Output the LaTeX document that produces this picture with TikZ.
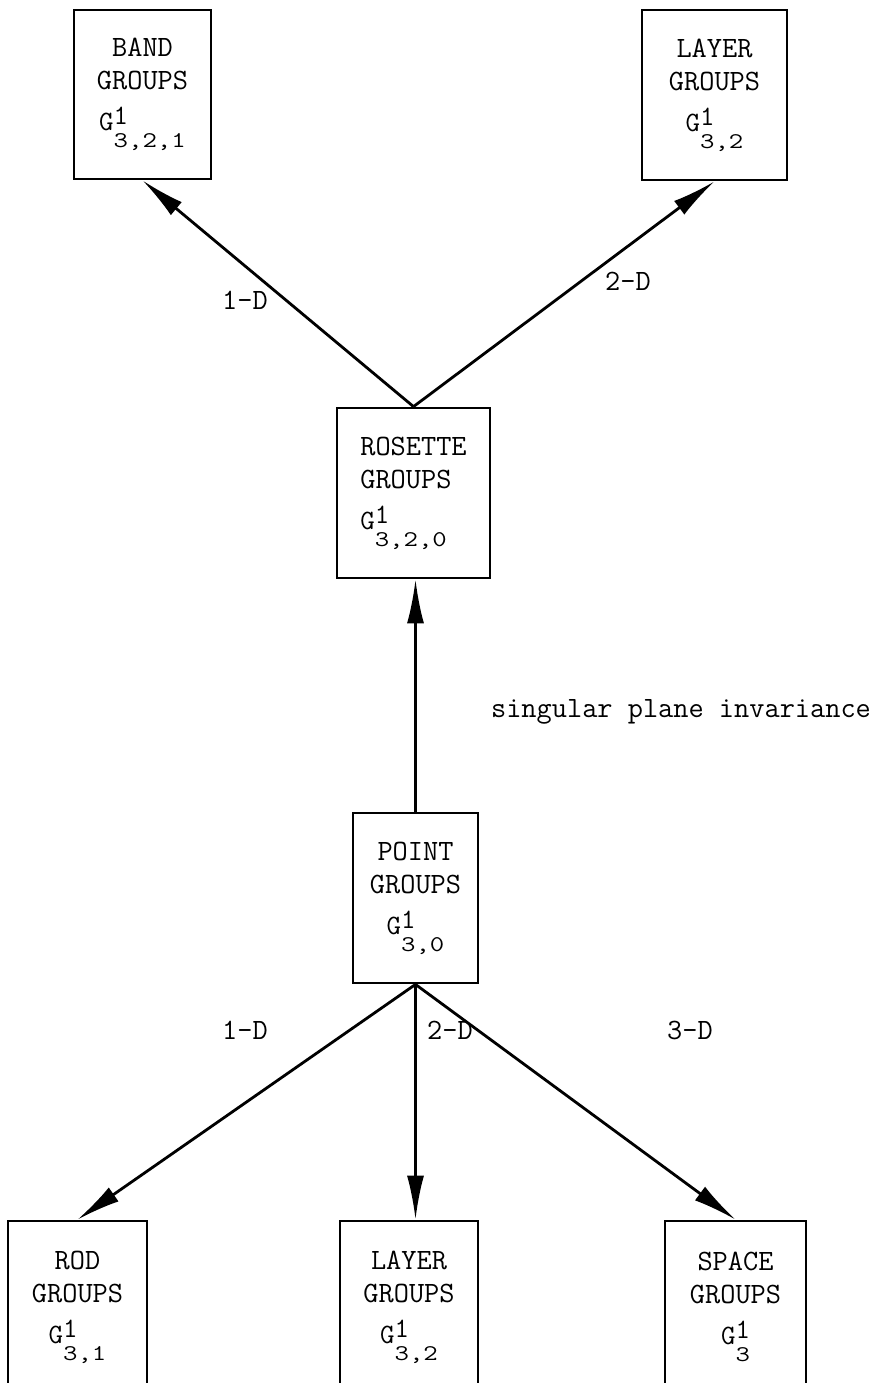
\documentclass[tikz,border=0pt]{standalone}
\usetikzlibrary{arrows.meta}
\newcommand{\gline}[1]{{\fontsize{28}{30}\selectfont G\rlap{\raisebox{6pt}{1}}\raisebox{-17pt}{\scalebox{1}[0.8]{#1}}}}
\tikzset{
  grpbox/.style={draw, line width=2.8pt, inner sep=0pt, align=center,
    font=\fontsize{29.5}{33}\selectfont\ttfamily},
  lbl/.style={font=\fontsize{29.5}{33}\selectfont\ttfamily, inner sep=0pt},
  arr/.style={line width=2.8pt, -{Latex[length=44pt,width=17pt]}}
}
\begin{document}
\begin{tikzpicture}[x=1pt,y=-1pt]
\useasboundingbox (0,0) rectangle (882,1383);
\clip (0,0) rectangle (882,1383);
% boxes
\node[grpbox, minimum width=137pt, minimum height=169pt] (band) at (142.5,94.5)
  {BAND\\GROUPS\\[8pt]\ttfamily\gline{3,2,1}};
\node[grpbox, minimum width=145pt, minimum height=170pt] (layerT) at (714.5,95)
  {LAYER\\GROUPS\\[8pt]\ttfamily\gline{3,2}};
\node[grpbox, align=left, minimum width=153pt, minimum height=170pt] (rosette) at (413.5,493)
  {ROSETTE\\GROUPS\\[8pt]\ttfamily\gline{3,2,0}};
\node[grpbox, minimum width=125pt, minimum height=170pt] (point) at (415.5,898)
  {POINT\\GROUPS\\[8pt]\ttfamily\gline{3,0}};
\node[grpbox, minimum width=139pt, minimum height=172pt] (rod) at (77.5,1307)
  {ROD\\GROUPS\\[8pt]\ttfamily\gline{3,1}};
\node[grpbox, minimum width=138pt, minimum height=172pt] (layerB) at (409,1307)
  {LAYER\\GROUPS\\[8pt]\ttfamily\gline{3,2}};
\node[grpbox, minimum width=141pt, minimum height=172pt] (space) at (735.5,1307)
  {SPACE\\GROUPS\\[8pt]\ttfamily\gline{3}};
% connectors
\draw[arr] (rosette.north) -- (band.south);
\draw[arr] (rosette.north) -- (layerT.south);
\draw[arr] (point.north) -- (point.north |- rosette.south);
\draw[arr] (point.south) -- (rod.north);
\draw[arr] (point.south) -- (point.south |- layerB.north);
\draw[arr] (point.south) -- (space.north);
% labels
\node[lbl] (l1) at (245,300) {1-D};
\node[lbl] (l2) at (628,281) {2-D};
\node[lbl] (ls) at (681,712) {singular plane invariance};
\node[lbl] (b1) at (245,1030) {1-D};
\node[lbl] (b2) at (450,1030) {2-D};
\node[lbl] (b3) at (690,1030) {3-D};
\end{tikzpicture}
\end{document}
